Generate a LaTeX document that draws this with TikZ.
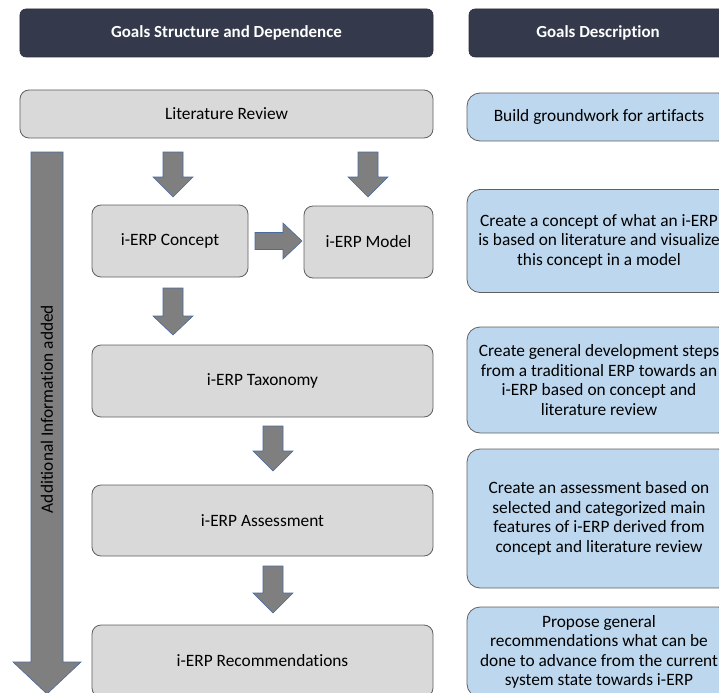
\documentclass[tikz,border=0pt]{standalone}
\usepackage{fontspec}
\setmainfont[Ligatures={NoCommon}]{Carlito}
\begin{document}
\definecolor{navy}{HTML}{343A4C}
\definecolor{boxgrey}{HTML}{D9D9D9}
\definecolor{boxblue}{HTML}{BDD7EE}
\definecolor{edgegrey}{HTML}{5F5F5F}
\definecolor{arrowgrey}{HTML}{7F7F7F}
\definecolor{arrowedge}{HTML}{4A69A0}
\newcommand{\blockdown}[5]{% centre x, shaft top, head base, tip, name
  \draw[blockarrow] (#1-10,#2) -- (#1+10,#2) -- (#1+10,#3) -- (#1+20,#3)
    -- (#1,#4) coordinate (#5) -- (#1-20,#3) -- (#1-10,#3) -- cycle;}
\begin{tikzpicture}[x=1bp,y=-1bp,
  txt/.style={font=\fontsize{17.4}{19.6}\selectfont, align=center, text=black},
  header/.style={txt, rectangle, rounded corners=6bp, fill=navy, draw=navy!80!black,
    line width=0.6bp, text=white, font=\fontsize{17}{19.6}\selectfont\bfseries,
    minimum height=48bp, inner sep=0pt},
  goal/.style={txt, rectangle, rounded corners=9bp, fill=boxgrey, draw=edgegrey,
    line width=0.8bp, inner sep=0pt},
  desc/.style={txt, rectangle, rounded corners=13bp, fill=boxblue, draw=edgegrey,
    line width=0.8bp, inner sep=0pt, minimum width=264bp},
  blockarrow/.style={fill=arrowgrey, draw=arrowedge, line width=0.6bp, line join=miter}]
\useasboundingbox (0,0) rectangle (719,693);
\clip (0,0) rectangle (719,693);

% column headers
\node[header, minimum width=413bp] (hdrA) at (226.5,33) {Goals Structure and Dependence};
\node[header, minimum width=258bp] (hdrB) at (598,33) {Goals Description};

% goal structure
\node[goal, minimum width=413bp, minimum height=48bp] (lit) at (226.5,114) {Literature Review};
\node[goal, minimum width=156bp, minimum height=72bp] (concept) at (170,241) {i-ERP Concept};
\node[goal, minimum width=129bp, minimum height=72bp] (model) at (368.5,242) {i-ERP Model};
\node[goal, minimum width=341bp, minimum height=72bp] (tax) at (262.5,381) {i-ERP Taxonomy};
\node[goal, minimum width=341bp, minimum height=71bp] (assess) at (262.5,520.5) {i-ERP Assessment};
\node[goal, minimum width=341bp, minimum height=72bp] (recs) at (262.5,661) {i-ERP Recommendations};

% goal descriptions
\node[desc, minimum height=48bp] (dLit) at (599,117) {Build groundwork for artifacts};
\node[desc, minimum height=103bp] (dConcept) at (599,241)
  {Create a concept of what an i-ERP\\is based on literature and visualize\\this concept in a model};
\node[desc, minimum height=106bp] (dTax) at (599,380)
  {Create general development steps\\from a traditional ERP towards an\\i-ERP based on concept and\\literature review};
\node[desc, minimum height=139bp] (dAssess) at (599,518.5)
  {Create an assessment based on\\selected and categorized main\\features of i-ERP derived from\\concept and literature review};
\node[desc, minimum height=90bp] (dRecs) at (599,652)
  {Propose general\\recommendations what can be\\done to advance from the current\\system state towards i-ERP};

% block arrows between goals
\blockdown{173}{152}{177}{197}{a1}
\blockdown{368}{152}{177}{197}{a2}
\blockdown{173}{288}{316}{335}{a3}
\blockdown{273}{426}{451}{471}{a4}
\blockdown{273}{566}{593}{613}{a5}
\draw[blockarrow] (255,232.5) -- (283,232.5) -- (283,223) -- (302,241)
  -- (283,259) -- (283,249.5) -- (255,249.5) -- cycle;

% long arrow along the whole process
\draw[blockarrow] (31,152) -- (63,152) -- (63,662) -- (81,662) -- (47,694)
  -- (13,662) -- (31,662) -- cycle;
\node[txt, rotate=90] (info) at (47,409) {Additional Information added};
\end{tikzpicture}
\end{document}
